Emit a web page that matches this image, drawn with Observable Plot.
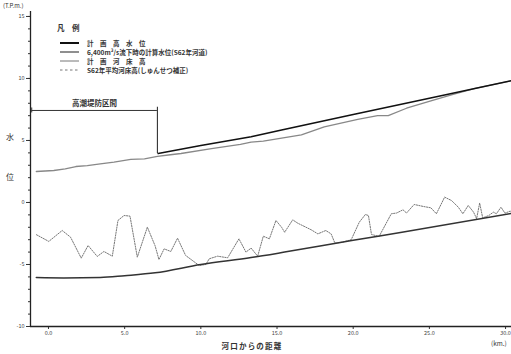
<!DOCTYPE html>
<html><head><meta charset="utf-8">
<script src="https://cdn.jsdelivr.net/npm/d3@7"></script>
<script src="https://cdn.jsdelivr.net/npm/@observablehq/plot@0.6"></script>
<style>
body{margin:0;background:#fff;}
#wrap{position:relative;width:511px;height:354px;overflow:hidden;font-family:"Noto Sans CJK JP",sans-serif;}
#wrap svg{position:absolute;left:0;top:0;}
</style></head><body><div id="wrap"></div>
<script>
// 計画高水位
const hwlKm    = [7.2, 10, 13.3, 15.3, 20, 25, 30.5];
const hwlLevel = [3.95, 4.6, 5.3, 5.85, 7.1, 8.4, 9.85];
// 6,400m3/s流下時の計算水位 (S62年河道)
const calcKm    = [-0.8, 0.35, 1.1, 1.8, 2.55, 3.4, 4.3, 5.4, 6.3, 7.15, 8.0, 8.7, 10.7, 12.6, 13.3, 14.1, 16.6, 18.1, 20.3, 21.6, 22.3, 23.5, 25.1, 26.5, 28, 30.5];
const calcLevel = [2.5, 2.58, 2.71, 2.9, 2.98, 3.12, 3.25, 3.47, 3.52, 3.71, 3.85, 3.95, 4.35, 4.68, 4.86, 4.95, 5.45, 6.1, 6.7, 7.0, 7.0, 7.6, 8.2, 8.7, 9.2, 9.85];
// 計画河床高
const bedKm    = [-0.8, 1, 3.4, 5, 7, 10, 13.3, 15.5, 20, 23.2, 30.5];
const bedLevel = [-6.05, -6.08, -6.05, -5.9, -5.67, -5.0, -4.44, -4.0, -3.05, -2.4, -0.86];
// S62年平均河床高 (しゅんせつ補正)
const s62Km = [-0.79, 0.02, 0.9, 1.45, 2.15, 2.6, 3.2, 3.64, 4.19, 4.56, 4.96, 5.35, 5.83, 6.49, 7.0, 7.25, 7.59, 8.03, 8.47, 9.0, 9.89, 10.33, 10.55, 11.1, 11.76, 12.5, 12.96, 13.3, 13.73, 14.1, 14.5, 14.93, 15.3, 15.5, 16.03, 16.36, 17.24, 17.68, 18.2, 18.55, 18.8, 19.3, 19.87, 20.4, 20.8, 21.0, 21.2, 21.7, 22.5, 22.85, 23.27, 23.5, 24.0, 24.6, 25.1, 25.46, 26.0, 26.45, 26.9, 27.2, 27.55, 27.9, 28.1, 28.3, 28.5, 28.9, 29.2, 29.4, 29.7, 29.96, 30.3, 30.5];
const s62Level = [-2.6, -3.14, -2.26, -2.8, -4.49, -3.47, -4.35, -3.95, -4.33, -1.45, -1.05, -1.1, -4.41, -1.99, -3.5, -4.6, -3.74, -3.95, -2.88, -4.27, -5.08, -5.0, -4.54, -4.33, -4.46, -2.93, -4.0, -3.68, -4.33, -2.72, -2.93, -1.45, -2.0, -2.4, -1.4, -1.67, -2.2, -2.53, -2.26, -2.53, -3.28, -3.2, -3.0, -1.59, -0.97, -1.05, -2.58, -2.74, -0.91, -0.85, -0.59, -0.85, -0.16, -0.32, -0.43, -0.91, 0.43, 0.16, -0.38, -0.91, -0.24, -0.78, -1.3, -0.05, -1.24, -1.05, -0.78, -0.91, -0.38, -0.86, -0.7, -0.78];
// 高潮堤防区間
const sectionKm = [-1.1, 7.15];
const sectionLevel = 7.42;
const sectionLabel = "高潮堤防区間";
// ticks
const xTicks = [0, 5, 10, 15, 20, 25, 30];
const yTicks = [-10, -5, 0, 5, 10, 15];
const yMinor = d3.range(-10, 16, 1);
const legendLabels = ["計　画　高　水　位", "6,400m³/s流下時の計算水位(S62年河道)", "計　画　河　床　高", "S62年平均河床高(しゅんせつ補正)"];

const xMin = -1.18, xMax = 30.39;
const toRows = (ks, vs) => ks.map((k, i) => ({km: k, v: vs[i]}));
const font = '"Noto Sans CJK JP", sans-serif';

const chart = Plot.plot({
  width: 511, height: 354,
  marginLeft: 30, marginRight: 0, marginTop: 11, marginBottom: 28,
  style: {fontFamily: font, background: "transparent", overflow: "visible"},
  x: {domain: [xMin, xMax], label: null},
  y: {domain: [-10, 15.4], label: null},
  marks: [
    Plot.axisY(yMinor, {tickSize: 2, text: null, stroke: "#333", label: null}),
    Plot.axisY(yTicks, {tickSize: 4, tickPadding: 2, fontSize: 5.5, fill: "#444", stroke: "#333", label: null, tickFormat: d => d}),
    Plot.axisX(xTicks, {tickSize: 3, tickPadding: 2, fontSize: 5.5, fill: "#444", stroke: "#333", label: null, tickFormat: d => d.toFixed(1)}),
    Plot.ruleX([xMin], {stroke: "#222", strokeWidth: 1.3}),
    Plot.ruleY([-10], {stroke: "#222", strokeWidth: 1.3}),
    // bracket
    Plot.ruleY([sectionLevel], {x1: sectionKm[0], x2: sectionKm[1], stroke: "#333", strokeWidth: 1}),
    Plot.ruleX([sectionKm[1]], {y1: hwlLevel[0], y2: sectionLevel + 0.25, stroke: "#333", strokeWidth: 1.1}),
    Plot.ruleX([sectionKm[0]], {y1: sectionLevel - 0.2, y2: sectionLevel + 0.2, stroke: "#333", strokeWidth: 1}),
    Plot.text([sectionLabel], {x: (sectionKm[0] + sectionKm[1]) / 2, y: sectionLevel + 0.4, fontSize: 7.5, fontWeight: "bold", fill: "#333", lineAnchor: "bottom"}),
    Plot.line(toRows(s62Km, s62Level), {x: "km", y: "v", stroke: "#777", strokeWidth: 1, strokeDasharray: "1.3,1.3"}),
    Plot.line(toRows(bedKm, bedLevel), {x: "km", y: "v", stroke: "#333", strokeWidth: 1.5, curve: "monotone-x"}),
    Plot.line(toRows(calcKm, calcLevel), {x: "km", y: "v", stroke: "#888", strokeWidth: 1.3}),
    Plot.line(toRows(hwlKm, hwlLevel), {x: "km", y: "v", stroke: "#111", strokeWidth: 1.6})
  ]
});
const wrap = document.getElementById("wrap");
wrap.appendChild(chart);

// overlay texts and legend
const ov = d3.select(wrap).append("svg").attr("width", 511).attr("height", 354).style("font-family", font);
ov.append("text").attr("x", 3).attr("y", 8).attr("font-size", 6).attr("fill", "#333").text("(T.P.m.)");
ov.append("text").attr("x", 10).attr("y", 140).attr("font-size", 8).attr("text-anchor", "middle").attr("fill", "#333").text("水");
ov.append("text").attr("x", 10).attr("y", 180).attr("font-size", 8).attr("text-anchor", "middle").attr("fill", "#333").text("位");
ov.append("text").attr("x", 252).attr("y", 349).attr("font-size", 7.5).attr("font-weight", "bold").attr("letter-spacing", 1.2).attr("text-anchor", "middle").attr("fill", "#333").text("河口からの距離");
ov.append("text").attr("x", 491).attr("y", 346).attr("font-size", 6.5).attr("fill", "#333").text("(km.)");
ov.append("text").attr("x", 57).attr("y", 31).attr("font-size", 7.5).attr("font-weight", "bold").attr("fill", "#333").text("凡　例");
const legStyles = [
  {stroke: "#111", w: 2, dash: null},
  {stroke: "#444", w: 1.2, dash: null},
  {stroke: "#777", w: 1, dash: null},
  {stroke: "#777", w: 1, dash: "2.5,2.5"}
];
const legY = [43, 52, 61, 70];
legendLabels.forEach((t, i) => {
  const s = legStyles[i];
  const l = ov.append("line").attr("x1", 60).attr("x2", 79).attr("y1", legY[i]).attr("y2", legY[i])
    .attr("stroke", s.stroke).attr("stroke-width", s.w);
  if (s.dash) l.attr("stroke-dasharray", s.dash);
  ov.append("text").attr("x", 87).attr("y", legY[i] + 2.5).attr("font-size", 6.5).attr("font-weight", "bold").attr("fill", "#333").text(t);
});
</script></body></html>
